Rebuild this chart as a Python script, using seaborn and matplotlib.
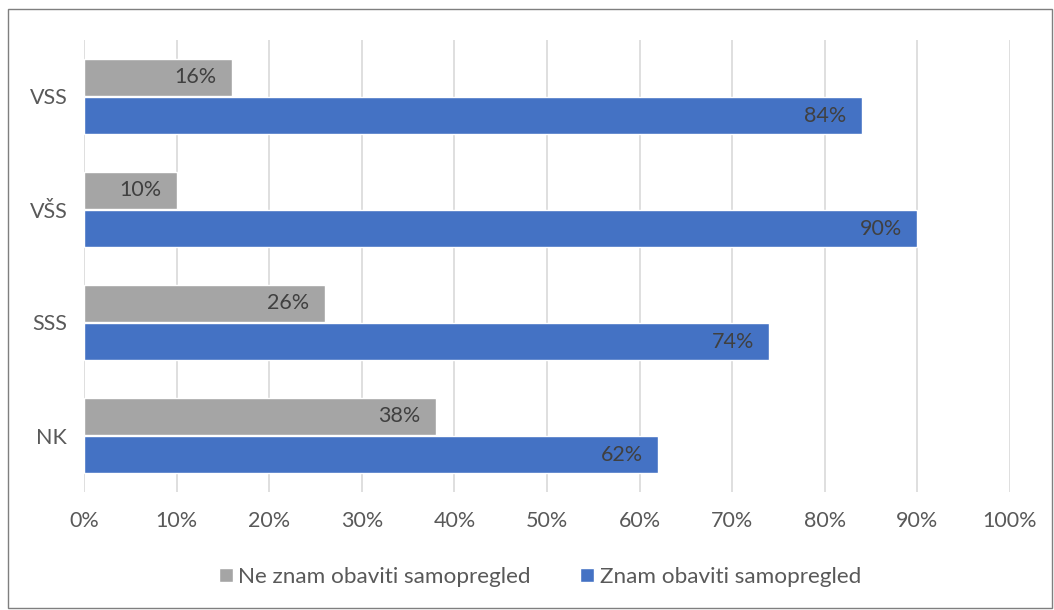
import matplotlib.pyplot as plt
import seaborn as sns
import pandas as pd
from matplotlib.patches import Rectangle

# ---------- data ----------
categories = ["VSS", "VŠS", "SSS", "NK"]
series_names = ["Ne znam obaviti samopregled", "Znam obaviti samopregled"]
ne_znam = [16, 10, 26, 38]
znam = [84, 90, 74, 62]
colors = ["#A5A5A5", "#4472C4"]

df = pd.DataFrame({
    "Stupanj": categories * 2,
    "Serija": [series_names[0]] * 4 + [series_names[1]] * 4,
    "Postotak": ne_znam + znam,
})

sns.set_style("white")
plt.rcParams["font.family"] = ["Lato", "DejaVu Sans"]

fig = plt.figure(figsize=(10.54, 6.1), dpi=100)
ax = fig.add_axes([84 / 1054, 1 - 492 / 610, (1010 - 84) / 1054, 452 / 610])

sns.barplot(data=df, y="Stupanj", x="Postotak", hue="Serija",
            order=categories, hue_order=series_names, palette=colors,
            saturation=1, orient="h", width=0.68, gap=0.05, ax=ax, zorder=3)

# value labels, right-aligned inside the bar end
for container in ax.containers:
    for patch, v in zip(container.patches, container.datavalues):
        ax.annotate(f"{v:.0f}%", (patch.get_width(), patch.get_y() + patch.get_height() / 2),
                    xytext=(-11, 0), textcoords="offset points",
                    ha="right", va="center", fontsize=15.5, color="#404040", zorder=4)

ax.set_xlim(0, 100)
ax.set_xticks(range(0, 101, 10))
ax.set_xticklabels([f"{t}%" for t in range(0, 101, 10)])
ax.grid(axis="x", color="#D9D9D9", linewidth=1.2, zorder=0)
ax.set_axisbelow(True)
for s in ax.spines.values():
    s.set_visible(False)
ax.tick_params(axis="both", length=0, labelsize=15.5, colors="#595959", pad=14)
ax.tick_params(axis="y", pad=12)
ax.set_xlabel("")
ax.set_ylabel("")

leg = ax.legend(loc="center", ncol=2, frameon=False, fontsize=16.2,
                handlelength=0.6, handleheight=0.6, handletextpad=0.25,
                columnspacing=2.2, labelcolor="#595959")
leg.set_bbox_to_anchor((540 / 1054, 1 - 577 / 610), transform=fig.transFigure)

fig.patches.append(Rectangle((0.008, 0.003), 0.99, 0.983, transform=fig.transFigure,
                             fill=False, edgecolor="#7F7F7F", linewidth=1))

plt.savefig("out.png", dpi=100)
plt.close()
